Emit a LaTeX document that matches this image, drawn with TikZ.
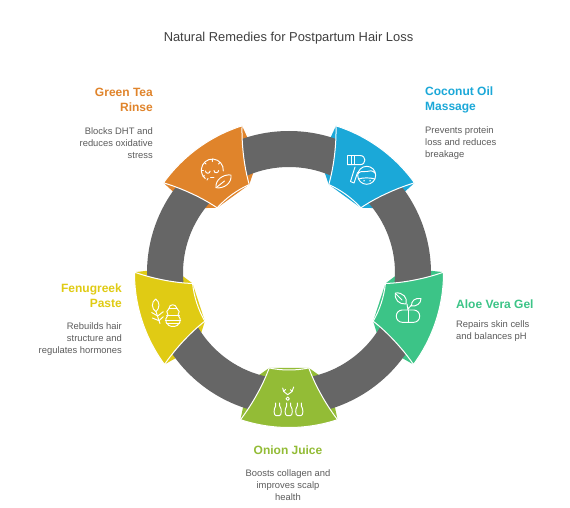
\documentclass[tikz,border=0pt]{standalone}
\usepackage{fontspec}
\setmainfont{Liberation Sans}
\definecolor{cOrange}{HTML}{E0842B}
\definecolor{cBlue}{HTML}{1BA8D8}
\definecolor{cGreen}{HTML}{3CC487}
\definecolor{cLime}{HTML}{93BC36}
\definecolor{cYellow}{HTML}{E0CB14}
\definecolor{cBand}{HTML}{666666}
\definecolor{cBody}{HTML}{5C5C5C}
\definecolor{cTitle}{HTML}{404040}
\tikzset{
  headtext/.style={font=\fontsize{12}{15}\selectfont\bfseries,inner sep=0pt},
  bodytext/.style={font=\fontsize{9.4}{12}\selectfont,text=cBody,inner sep=0pt},
  icon/.style={draw=white,line width=0.95pt,line cap=round,line join=round,fill=none}
}
\newcommand{\segpiece}[2]{%
  \fill[#2] ({#1+18.3}:154.5) -- ({#1+18.9}:142) -- ({#1+16.2}:106) -- ({#1+11.8}:97)
     -- ({#1-11.8}:97) -- ({#1-16.2}:106) -- ({#1-18.9}:142) -- ({#1-18.3}:154.5) -- cycle;}
\newcommand{\segmain}[2]{%
  \draw[white,line width=1pt,fill=#2,line join=round]
    ({#1+18.3}:154.5) arc[start angle={#1+18.3},end angle={#1-18.3},radius=154.5]
    .. controls ({#1-15.4}:135) and ({#1-12.9}:113) .. ({#1-11.8}:97)
    arc[start angle={#1-11.8},end angle={#1+11.8},radius=97]
    .. controls ({#1+12.9}:113) and ({#1+15.4}:135) .. cycle;}
\begin{document}
\begin{tikzpicture}[x=1pt,y=1pt]
\useasboundingbox (0,0) rectangle (570,507);
\fill[white] (0,0) rectangle (570,507);
\begin{scope}[shift={(289pt,234pt)}]
  \segpiece{126}{cOrange}\segpiece{54}{cBlue}\segpiece{-18}{cGreen}\segpiece{-90}{cLime}\segpiece{198}{cYellow}
  \fill[cBand,even odd rule] (0,0) circle[radius=142] (0,0) circle[radius=106];
  \segmain{126}{cOrange}\segmain{54}{cBlue}\segmain{-18}{cGreen}\segmain{-90}{cLime}\segmain{198}{cYellow}
\end{scope}
\begin{scope}[yshift=507pt,x=1pt,y=-1pt]
  % title
  \node[font=\fontsize{12.9}{15}\selectfont,text=cTitle,inner sep=0pt] (title) at (288.5,38) {Natural Remedies for Postpartum Hair Loss};
  % labels
  \node[headtext,text=cOrange,align=right,anchor=east] (teaH) at (153,100) {Green Tea\\Rinse};
  \node[bodytext,align=right,anchor=east] (teaB) at (153,143.5) {Blocks DHT and\\reduces oxidative\\stress};
  \node[headtext,text=cBlue,align=left,anchor=west] (cocoH) at (425,100) {Coconut Oil\\Massage};
  \node[bodytext,align=left,anchor=west] (cocoB) at (425,143.5) {Prevents protein\\loss and reduces\\breakage};
  \node[headtext,text=cGreen,anchor=west] (aloeH) at (456,304) {Aloe Vera Gel};
  \node[bodytext,align=left,anchor=west] (aloeB) at (456,331.5) {Repairs skin cells\\and balances pH};
  \node[headtext,text=cLime] (onionH) at (288,450) {Onion Juice};
  \node[bodytext,align=center] (onionB) at (288,485) {Boosts collagen and\\improves scalp\\health};
  \node[headtext,text=cYellow,align=right,anchor=east] (fenuH) at (122,296) {Fenugreek\\Paste};
  \node[bodytext,align=right,anchor=east] (fenuB) at (122,339.5) {Rebuilds hair\\structure and\\regulates hormones};
  % green tea icon
  \draw[icon] (223.3,171) arc[start angle=5,end angle=-230,radius=11];
  \draw[icon] (205.5,171) arc[start angle=180,end angle=0,radius=2.3];
  \draw[icon] (214,170.5) arc[start angle=180,end angle=0,radius=2.3];
  \draw[icon] (210.5,177) -- (214,177);
  \draw[icon] (212.3,159) -- (212.3,161.5) (204.5,162.5) -- (206,164) (220,162.5) -- (218.5,164) (201.5,170.5) -- (203.5,170.5) (203,176.5) -- (204.5,175.7) (207,180) -- (208,178.5);
  \draw[icon] (216,187.7) .. controls (215,180) and (223,174) .. (231,175) .. controls (232,183) and (224,189) .. (216,187.7) -- cycle;
  \draw[icon] (216,187.7) -- (224.5,181);
  % coconut icon
  \draw[icon] (347.5,155.5) -- (360,155.5) .. controls (366.5,155.5) and (366.5,164.7) .. (360,164.7) -- (347.5,164.7) -- cycle;
  \draw[icon] (351,155.5) -- (351,164.7) (354.5,155.5) -- (354.5,164.7);
  \draw[icon] (355,167) -- (350.5,181.5) -- (354,183) -- (357.5,172.5);
  \draw[icon] (366.7,175.3) circle[radius=9];
  \draw[icon] (358,173.5) .. controls (361,170) and (364,172.5) .. (366.7,171.5) .. controls (369.5,170.5) and (372.5,170) .. (375.5,173.5);
  \draw[icon] (358.5,179) .. controls (363,177.5) and (370,177.5) .. (375,179);
  \fill[white] (364,180.8) circle[radius=0.8] (370,180.8) circle[radius=0.8];
  % aloe icon
  \draw[icon,rounded corners=6pt] (396.3,310) rectangle (419.7,322.3);
  \draw[icon] (408,310) -- (408,322.3);
  \draw[icon] (408,310) -- (407,304) (408,309) -- (411.5,305);
  \draw[icon] (395.3,293) .. controls (403,292) and (408,298) .. (406,304) .. controls (399,304.5) and (394.5,300) .. (395.3,293) -- cycle;
  \draw[icon] (395.5,293.5) -- (402,300);
  \draw[icon] (421,298.5) .. controls (415,297.5) and (411,301) .. (411.5,306) .. controls (416,306.5) and (421,304) .. (421,298.5) -- cycle;
  % onion icon
  \draw[icon] (282.7,388) -- (283.7,391.5) -- (287.7,394.7) -- (292,391.5) -- (293.7,387);
  \draw[icon] (283.7,391.5) -- (285.5,389.5) (292,391.5) -- (290.5,389.7);
  \draw[icon] (287.7,398.7) circle[radius=1.7];
  \foreach \bx in {277.7,288.7,299.3}{
    \draw[icon] (\bx-2,403) -- (\bx-2,406) .. controls (\bx-4.2,408.5) and (\bx-4.2,415.7) .. (\bx-1.5,415.7)
       -- (\bx+1.5,415.7) .. controls (\bx+4.2,415.7) and (\bx+4.2,408.5) .. (\bx+2,406) -- (\bx+2,403);
  }
  % fenugreek icon
  \draw[icon] (155.7,299) .. controls (151,302) and (151.5,309) .. (156,311.7) .. controls (160,308) and (160,302) .. (155.7,299) -- cycle;
  \draw[icon] (156,311.7) -- (160,323.5);
  \draw[icon] (151.7,312.5) -- (157.7,316) (163.3,311.7) -- (157.7,316) (152.3,318) -- (159,320.7) (163.3,316.7) -- (159,320.7);
  \draw[icon] (169,308.5) .. controls (169,303.5) and (176,303.5) .. (177,308.5) -- cycle;
  \draw[icon] (169,308.5) .. controls (166.5,310) and (166,313) .. (168,315) .. controls (163.5,319.5) and (166,326.5) .. (173,326.5)
     .. controls (180,326.5) and (182.5,319.5) .. (178,315) .. controls (180,313) and (179.5,310) .. (177,308.5);
  \draw[icon] (166.5,315.5) -- (179.5,315.5) (165.3,320) -- (180.7,320) (166.5,323) -- (179.5,323);
\end{scope}
\end{tikzpicture}
\end{document}
